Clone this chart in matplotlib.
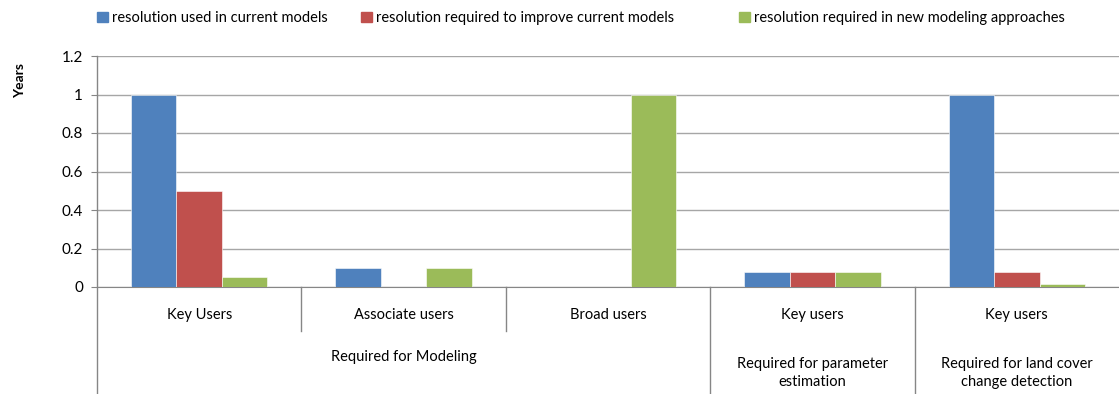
import numpy as np
import matplotlib.pyplot as plt
from matplotlib.patches import Patch
import matplotlib.transforms as mtransforms

plt.rcParams['font.family'] = ['Lato', 'DejaVu Sans']

# data
categories = ["Key Users", "Associate users", "Broad users", "Key users", "Key users"]
groups = ["Required for Modeling", "Required for parameter\nestimation",
          "Required for land cover\nchange detection"]
group_spans = [(0, 2), (3, 3), (4, 4)]
series_names = ["resolution used in current models",
                "resolution required to improve current models",
                "resolution required in new modeling approaches"]
used_current = [1.0, 0.1, 0.0, 0.08, 1.0]
improve_current = [0.5, 0.0, 0.0, 0.08, 0.08]
new_approaches = [0.05, 0.097, 1.0, 0.08, 0.017]
colors = ["#4F81BD", "#C0504D", "#9BBB59"]

W, H = 1119, 394
fig = plt.figure(figsize=(W / 100, H / 100), dpi=100)
ax = fig.add_axes([97 / W, (H - 287) / H, (1119 - 97) / W, (287 - 56) / H])

x = np.arange(len(categories))
bw = 1 / 4.5
for i, vals in enumerate([used_current, improve_current, new_approaches]):
    ax.bar(x + (i - 1) * bw, vals, width=bw, color=colors[i], zorder=3,
           edgecolor='white', linewidth=0.4)

ax.set_xlim(-0.5, len(categories) - 0.5)
ax.set_ylim(0, 1.2)
ax.set_yticks([0, 0.2, 0.4, 0.6, 0.8, 1.0, 1.2])
ax.set_yticklabels(["0", "0.2", "0.4", "0.6", "0.8", "1", "1.2"], fontsize=11)
ax.yaxis.grid(True, color='#A6A6A6', linewidth=1)
ax.set_axisbelow(True)
ax.tick_params(axis='y', length=4, color='#868686', pad=6)
ax.set_xticks([])
for s in ['top', 'right', 'left']:
    ax.spines[s].set_visible(False)
ax.spines['bottom'].set_color('#868686')

trans = mtransforms.blended_transform_factory(ax.transData, ax.transAxes)
ah = 287 - 56
bottom_fr = -(H - 287 + 2) / ah
short_fr = -(331 - 287) / ah

# left axis line running down to the bottom
ax.plot([-0.5, -0.5], [1.0, bottom_fr], transform=trans, color='#868686',
        lw=1, clip_on=False, zorder=4)
# category separators
group_edges = [s[0] - 0.5 for s in group_spans[1:]]
for b in np.arange(0.5, len(categories) - 0.5, 1.0):
    y_end = bottom_fr if b in group_edges else short_fr
    ax.plot([b, b], [0, y_end], transform=trans, color='#868686',
            lw=1, clip_on=False)

for xi, lab in zip(x, categories):
    ax.text(xi, -(315 - 287) / ah, lab, transform=trans, ha='center',
            va='center', fontsize=10.5)
for (a, b), lab in zip(group_spans, groups):
    ax.text((a + b) / 2, -(357 - 287) / ah, lab, transform=trans, ha='center',
            va='top' if '\n' in lab else 'center', fontsize=10.5,
            linespacing=1.35)

fig.text(20 / W, 1 - 80 / H, "Years", rotation=90, ha='center', va='center',
         fontsize=10, fontweight='bold')

# legend entries placed where they sit in the original
legend_x = [97, 361, 739]
for lx, c, name in zip(legend_x, colors, series_names):
    fig.legend([Patch(color=c)], [name], loc='center left',
               bbox_to_anchor=(lx / W, 1 - 18 / H), frameon=False, fontsize=10.5,
               handlelength=0.75, handleheight=0.75, handletextpad=0.3,
               borderpad=0, borderaxespad=0)

fig.savefig("out.png", dpi=100)
